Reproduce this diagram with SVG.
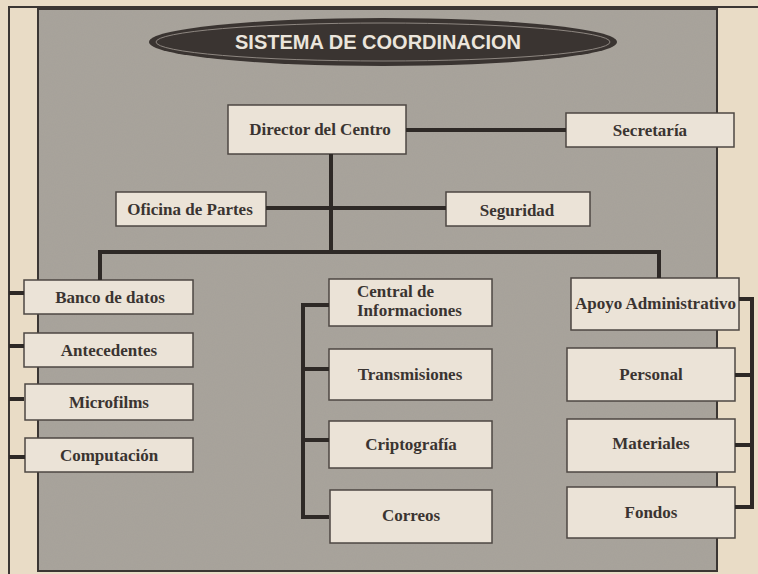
<svg xmlns="http://www.w3.org/2000/svg" width="758" height="574" viewBox="0 0 758 574">
<defs>
<filter id="grain" x="0" y="0" width="100%" height="100%">
<feTurbulence type="fractalNoise" baseFrequency="0.9" numOctaves="2" seed="3" result="n"/>
<feColorMatrix in="n" type="matrix" values="0 0 0 0 0.35  0 0 0 0 0.33  0 0 0 0 0.3  0 0 0 0.35 0"/>
<feComposite in2="SourceGraphic" operator="in"/>
</filter>
<style>
.box{fill:#ebe3d7;stroke:#4d4743;stroke-width:1.5}
.lbl{font-family:"Liberation Serif","Times New Roman",serif;font-weight:bold;font-size:17px;fill:#3a3431;text-anchor:middle;dominant-baseline:central}
.lft{text-anchor:start}
.con{stroke:#2e2926;stroke-width:4;fill:none;stroke-linecap:square}
.thin{stroke:#3b3633;stroke-width:2;fill:none}
</style>
</defs>
<rect x="0" y="0" width="758" height="574" fill="#e9dcc6"/>
<line class="thin" x1="8" y1="7" x2="758" y2="7" stroke-width="1.5"/>
<line class="thin" x1="9" y1="7" x2="9" y2="574"/>
<rect x="38" y="9" width="679" height="562" fill="#a9a49c" stroke="#3b3633" stroke-width="2"/>
<rect x="39" y="10" width="677" height="560" fill="#a9a49c" filter="url(#grain)"/>

<g id="title">
<ellipse cx="383" cy="42" rx="234" ry="24" fill="#3a3431"/>
<ellipse cx="383" cy="42" rx="227" ry="19" fill="none" stroke="#8d8680" stroke-width="1"/>
<text x="378" y="49" text-anchor="middle" font-family="Liberation Sans, Arial, sans-serif" font-weight="bold" font-size="20" fill="#ebe5dc">SISTEMA DE COORDINACION</text>
</g>

<g id="director"><rect class="box" x="228" y="105" width="178" height="49"/><text class="lbl" x="320" y="129" font-size="16">Director del Centro</text></g>
<g id="secretaria"><rect class="box" x="566" y="113" width="168" height="34"/><text class="lbl" x="650" y="130" font-size="16">Secretaría</text></g>
<g id="oficina"><rect class="box" x="116" y="192" width="150" height="34"/><text class="lbl" x="190" y="209" font-size="16">Oficina de Partes</text></g>
<g id="seguridad"><rect class="box" x="446" y="192" width="144" height="34"/><text class="lbl" x="517" y="210" font-size="16">Seguridad</text></g>

<g id="banco"><rect class="box" x="24" y="280" width="169" height="34"/><text class="lbl" x="110" y="297">Banco de datos</text></g>
<g id="antecedentes"><rect class="box" x="24" y="333" width="169" height="34"/><text class="lbl" x="109" y="350">Antecedentes</text></g>
<g id="microfilms"><rect class="box" x="25" y="384" width="168" height="36"/><text class="lbl" x="109" y="402">Microfilms</text></g>
<g id="computacion"><rect class="box" x="25" y="438" width="168" height="34"/><text class="lbl" x="109" y="455">Computación</text></g>

<g id="central"><rect class="box" x="329" y="279" width="163" height="47"/><text class="lbl lft" x="357" y="291" font-size="16">Central de</text><text class="lbl lft" x="357" y="310" font-size="16.5">Informaciones</text></g>
<g id="transmisiones"><rect class="box" x="329" y="349" width="163" height="51"/><text class="lbl" x="410" y="374">Transmisiones</text></g>
<g id="criptografia"><rect class="box" x="329" y="421" width="163" height="47"/><text class="lbl" x="411" y="444">Criptografía</text></g>
<g id="correos"><rect class="box" x="330" y="490" width="162" height="53"/><text class="lbl" x="411" y="515">Correos</text></g>

<g id="apoyo"><rect class="box" x="571" y="278" width="168" height="52"/><text class="lbl lft" x="575" y="303">Apoyo Administrativo</text></g>
<g id="personal"><rect class="box" x="567" y="348" width="168" height="53"/><text class="lbl" x="651" y="374">Personal</text></g>
<g id="materiales"><rect class="box" x="567" y="419" width="168" height="53"/><text class="lbl" x="651" y="443">Materiales</text></g>
<g id="fondos"><rect class="box" x="567" y="487" width="168" height="51"/><text class="lbl" x="651" y="512">Fondos</text></g>

<g id="connectors">
<line class="con" x1="408" y1="130" x2="564" y2="130"/>
<line class="con" x1="331" y1="156" x2="331" y2="251"/>
<line class="con" x1="268" y1="208" x2="444" y2="208"/>
<polyline class="con" points="100,278 100,252 659,252 659,276"/>
<polyline class="con" points="327,305 303,305 303,517 327,517"/>
<line class="con" x1="305" y1="369" x2="327" y2="369"/>
<line class="con" x1="305" y1="440" x2="327" y2="440"/>
<line class="con" x1="11" y1="293" x2="22" y2="293"/>
<line class="con" x1="11" y1="346" x2="22" y2="346"/>
<line class="con" x1="11" y1="399" x2="22" y2="399"/>
<line class="con" x1="11" y1="457" x2="23" y2="457"/>
<polyline class="con" points="741,299 752,299 752,507 737,507" stroke-width="3"/>
<line class="con" x1="737" y1="375" x2="751" y2="375" stroke-width="3"/>
<line class="con" x1="737" y1="445" x2="751" y2="445" stroke-width="3"/>
</g>
</svg>
